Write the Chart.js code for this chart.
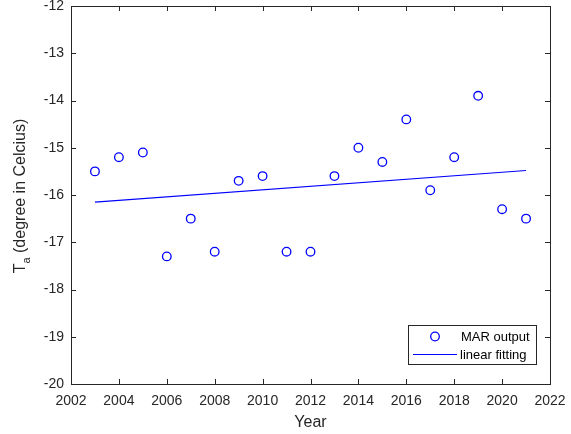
<!DOCTYPE html>
<html>
<head>
<meta charset="utf-8">
<script src="https://cdn.jsdelivr.net/npm/chart.js@4/dist/chart.umd.min.js"></script>
<style>
  html, body { margin: 0; padding: 0; background: #fff; }
  #wrap { width: 571px; height: 434px; position: relative; }
</style>
</head>
<body>
<div id="wrap"><canvas id="chart"></canvas></div>
<script>
const years = [2003, 2004, 2005, 2006, 2007, 2008, 2009, 2010, 2011, 2012,
               2013, 2014, 2015, 2016, 2017, 2018, 2019, 2020, 2021];
const marValues = [-15.5, -15.2, -15.1, -17.3, -16.5, -17.2, -15.7, -15.6, -17.2, -17.2,
                   -15.6, -15.0, -15.3, -14.4, -15.9, -15.2, -13.9, -16.3, -16.5];
const fitYears = [2003, 2021];
const fitValues = [-16.15, -15.48];
const xTicks = [2002, 2004, 2006, 2008, 2010, 2012, 2014, 2016, 2018, 2020, 2022];
const yTicks = [-20, -19, -18, -17, -16, -15, -14, -13, -12];

const axisColor = '#262626';
const fontFamily = '"Liberation Sans", Arial, sans-serif';

// MATLAB-style box, inward ticks, axis titles and legend
const matlabAxes = {
    id: 'matlabAxes',
    afterDraw(chart) {
        const ctx = chart.ctx;
        const area = chart.chartArea;
        const xs = chart.scales.x, ys = chart.scales.y;
        ctx.save();
        ctx.strokeStyle = axisColor;
        ctx.lineWidth = 1;
        ctx.strokeRect(area.left + 0.5, area.top + 0.5, area.right - area.left, area.bottom - area.top);

        const tl = 5;
        ctx.beginPath();
        xTicks.forEach(v => {
            const px = Math.round(xs.getPixelForValue(v)) + 0.5;
            ctx.moveTo(px, area.bottom); ctx.lineTo(px, area.bottom - tl);
            ctx.moveTo(px, area.top); ctx.lineTo(px, area.top + tl);
        });
        yTicks.forEach(v => {
            const py = Math.round(ys.getPixelForValue(v)) + 0.5;
            ctx.moveTo(area.left, py); ctx.lineTo(area.left + tl, py);
            ctx.moveTo(area.right, py); ctx.lineTo(area.right - tl, py);
        });
        ctx.stroke();

        // axis titles
        ctx.fillStyle = axisColor;
        ctx.font = '16px ' + fontFamily;
        ctx.textAlign = 'center';
        ctx.textBaseline = 'middle';
        ctx.fillText('Year', (area.left + area.right) / 2, 423);

        ctx.save();
        ctx.translate(21, (area.top + area.bottom) / 2 + 1);
        ctx.rotate(-Math.PI / 2);
        const main = ' (degree in Celcius)';
        ctx.font = '16px ' + fontFamily;
        const wT = ctx.measureText('T').width;
        const wMain = ctx.measureText(main).width;
        ctx.font = '11px ' + fontFamily;
        const wSub = ctx.measureText('a').width;
        const total = wT + wSub + wMain;
        let x0 = -total / 2;
        ctx.textAlign = 'left';
        ctx.font = '16px ' + fontFamily;
        ctx.fillText('T', x0, 0);
        ctx.font = '11px ' + fontFamily;
        ctx.fillText('a', x0 + wT, 6);
        ctx.font = '16px ' + fontFamily;
        ctx.fillText(main, x0 + wT + wSub, 0);
        ctx.restore();

        // legend box
        const lx = 408, ly = 325, lw = 128, lh = 39;
        ctx.fillStyle = '#fff';
        ctx.fillRect(lx, ly, lw, lh);
        ctx.strokeStyle = axisColor;
        ctx.strokeRect(lx + 0.5, ly + 0.5, lw, lh);
        ctx.strokeStyle = 'rgb(0,0,255)';
        ctx.lineWidth = 1.3;
        ctx.beginPath();
        ctx.arc(435, 336.5, 4.3, 0, Math.PI * 2);
        ctx.stroke();
        ctx.lineWidth = 1;
        ctx.beginPath();
        ctx.moveTo(413, 354.5); ctx.lineTo(457, 354.5);
        ctx.stroke();
        ctx.fillStyle = '#000';
        ctx.font = '13px ' + fontFamily;
        ctx.textAlign = 'left';
        ctx.fillText('MAR output', 461, 337);
        ctx.fillText('linear fitting', 460, 355);
        ctx.restore();
    }
};

new Chart(document.getElementById('chart'), {
    type: 'scatter',
    data: {
        datasets: [{
            label: 'MAR output',
            data: years.map((y, i) => ({ x: y, y: marValues[i] })),
            showLine: false,
            pointStyle: 'circle',
            pointRadius: 4.3,
            pointHoverRadius: 4.3,
            pointBorderWidth: 1.3,
            pointBorderColor: 'rgb(0,0,255)',
            pointBackgroundColor: 'rgba(0,0,0,0)'
        }, {
            label: 'linear fitting',
            data: fitYears.map((y, i) => ({ x: y, y: fitValues[i] })),
            showLine: true,
            borderColor: 'rgb(0,0,255)',
            borderWidth: 1.1,
            pointRadius: 0
        }]
    },
    options: {
        responsive: true,
        maintainAspectRatio: false,
        animation: false,
        layout: { padding: { left: 0, top: 6, right: 21, bottom: 0 } },
        plugins: { legend: { display: false }, tooltip: { enabled: false } },
        scales: {
            x: {
                type: 'linear',
                min: 2002, max: 2022,
                afterBuildTicks: s => { s.ticks = xTicks.map(v => ({ value: v })); },
                afterFit: s => { s.height = 50; s.paddingLeft = 0; s.paddingRight = 0; },
                grid: { display: false, drawTicks: false },
                border: { display: false },
                ticks: {
                    color: axisColor,
                    font: { family: fontFamily, size: 14 },
                    padding: 9,
                    maxRotation: 0,
                    callback: v => String(v)
                }
            },
            y: {
                type: 'linear',
                min: -20, max: -12,
                afterBuildTicks: s => { s.ticks = yTicks.map(v => ({ value: v })); },
                afterFit: s => { s.width = 71; s.paddingTop = 0; s.paddingBottom = 0; },
                grid: { display: false, drawTicks: false },
                border: { display: false },
                ticks: {
                    color: axisColor,
                    font: { family: fontFamily, size: 14 },
                    padding: 7,
                    callback: v => String(v)
                }
            }
        }
    },
    plugins: [matlabAxes]
});
</script>
</body>
</html>
